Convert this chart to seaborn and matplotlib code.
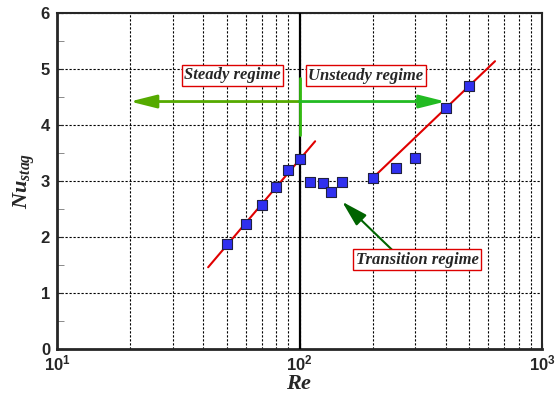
#bibliotecas
import numpy as np
import pandas as pd
import matplotlib
matplotlib.use('Agg')
import matplotlib.pyplot as plt
import seaborn as sns

#dados
re_vals = [50, 60, 70, 80, 90, 100, 110, 125, 135, 150, 200, 250, 300, 400, 500]
nu_vals = [1.87, 2.23, 2.57, 2.89, 3.20, 3.39, 2.98, 2.96, 2.80, 2.98, 3.05, 3.24, 3.42, 4.30, 4.70]

#retas de ajuste
fit_steady_re = [42, 116]
fit_steady_nu = [1.46, 3.71]
fit_unsteady_re = [200, 640]
fit_unsteady_nu = [3.05, 5.14]

#setas e rotulos
re_crit = 100
arrow_nu = 4.42
arrow_left_re = 20
arrow_right_re = 400
crit_mark_nu = [3.82, 4.84]
trans_tip = (150, 2.63)
trans_tail = (241, 1.77)
labels = ['Steady regime', 'Unsteady regime', 'Transition regime']
label_re = [53, 188, 306]
label_nu = [4.89, 4.88, 1.59]

sns.set_style('ticks')
plt.rcParams['font.family'] = ['Liberation Sans', 'DejaVu Sans']
plt.rcParams['mathtext.fontset'] = 'custom'
plt.rcParams['mathtext.it'] = 'Liberation Serif:bold:italic'
plt.rcParams['mathtext.rm'] = 'Liberation Serif:bold'

df = pd.DataFrame({'Re': re_vals, 'Nu': nu_vals})

fig = plt.figure(figsize=(5.55, 3.96), dpi=100)
ax = fig.add_axes([0.1027, 0.1187, 0.8739, 0.8483])

ax.set_xscale('log')
ax.set_xlim(10, 1000)
ax.set_ylim(0, 6)

#grade tracejada
ax.grid(True, which='both', axis='x', color='black', linestyle=(0, (2, 1.6)), linewidth=0.8)
ax.grid(True, which='major', axis='y', color='black', linestyle=(0, (2, 1.6)), linewidth=0.8)
ax.set_axisbelow(True)

#retas
sns.lineplot(x=fit_steady_re, y=fit_steady_nu, color='#e00000', linewidth=1.5, ax=ax)
sns.lineplot(x=fit_unsteady_re, y=fit_unsteady_nu, color='#e00000', linewidth=1.5, ax=ax)

#pontos
sns.scatterplot(data=df, x='Re', y='Nu', marker='s', s=60, color='#3030f0',
                edgecolor='#202040', linewidth=0.8, zorder=5, ax=ax)

#linha critica
ax.axvline(re_crit, color='black', linewidth=1.6, zorder=3)
ax.plot([re_crit, re_crit], crit_mark_nu, color='#33bb11', linewidth=2, zorder=4)

#setas verdes
arrow_style = '-|>,head_length=1.6,head_width=0.4'
ax.annotate('', xy=(arrow_left_re, arrow_nu), xytext=(re_crit, arrow_nu),
            arrowprops=dict(arrowstyle=arrow_style, color='#55aa00', lw=2,
                            shrinkA=0, shrinkB=0), zorder=4)
ax.annotate('', xy=(arrow_right_re, arrow_nu), xytext=(re_crit, arrow_nu),
            arrowprops=dict(arrowstyle=arrow_style, color='#22bb22', lw=2,
                            shrinkA=0, shrinkB=0), zorder=4)
ax.annotate('', xy=trans_tip, xytext=trans_tail,
            arrowprops=dict(arrowstyle='-|>,head_length=1.6,head_width=0.45',
                            color='#006400', lw=1.5, shrinkA=0, shrinkB=0), zorder=4)

#caixas de texto
for txt, xr, yn in zip(labels, label_re, label_nu):
    ax.text(xr, yn, txt, ha='center', va='center', fontsize=12,
            family='Liberation Serif', weight='bold', style='italic', zorder=6,
            bbox=dict(boxstyle='square,pad=0.15', facecolor='white',
                      edgecolor='#dd0000', linewidth=1))

#eixos
ax.set_yticks([0, 1, 2, 3, 4, 5, 6])
ax.set_yticks(np.arange(0.5, 6, 1), minor=True)
ax.tick_params(axis='both', which='both', direction='in')
ax.tick_params(axis='both', which='major', labelsize=12, length=4)
ax.tick_params(axis='y', which='major', pad=5)
ax.tick_params(axis='x', which='major', pad=3)
ax.tick_params(axis='y', which='minor', length=5, color='#777777')
ax.tick_params(axis='x', which='minor', length=0)
for lab in ax.get_xticklabels() + ax.get_yticklabels():
    lab.set_fontweight('bold')

ax.set_xlabel(r'$Re$', fontsize=16, labelpad=0)
ax.set_ylabel(r'$Nu_{stag}$', fontsize=16, labelpad=3)

for side in ['left', 'bottom']:
    ax.spines[side].set_linewidth(2)
for side in ['top', 'right']:
    ax.spines[side].set_linewidth(1.5)
    ax.spines[side].set_visible(True)

fig.savefig('out.png', dpi=100)
